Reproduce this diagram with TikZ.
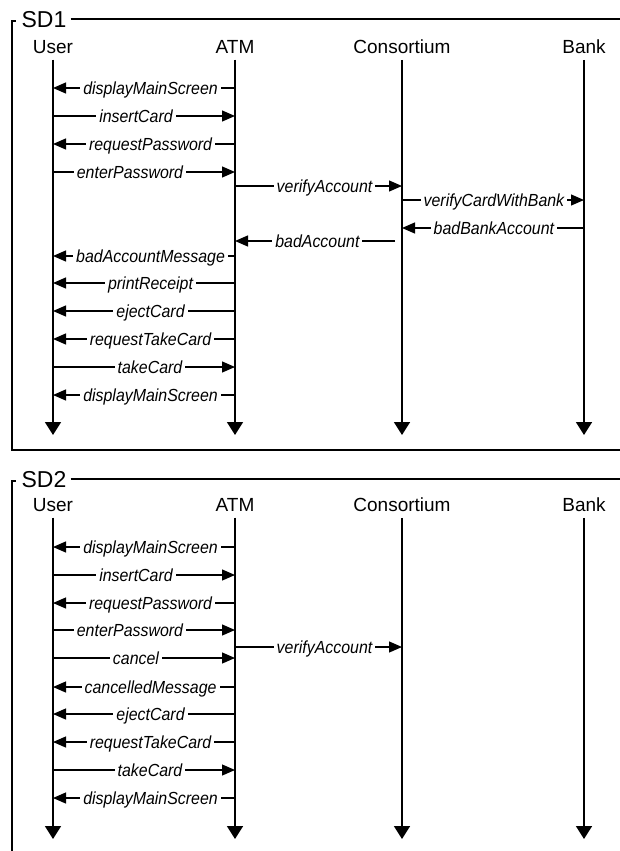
\documentclass[tikz,border=0pt]{standalone}
\usepackage{fontspec}
\setmainfont{Liberation Sans}
\newfontfamily\msgfont[FakeStretch=0.91]{Liberation Sans}
\usetikzlibrary{arrows.meta}

\begin{document}
\begin{tikzpicture}[x=1pt,y=-1pt,
  life/.style={line width=1.7pt,-{Triangle[length=13pt,width=16pt]}},
  msg/.style={line width=1.2pt,-{Triangle[length=13pt,width=11pt]}},
  lbl/.style={fill=white,inner xsep=3pt,inner ysep=2pt,text height=12.5pt,text depth=0pt,font=\msgfont\fontsize{17.5}{20}\selectfont\itshape},
  obj/.style={font=\fontsize{19}{22}\selectfont,inner sep=0pt,outer sep=6pt},
  sd/.style={font=\fontsize{23}{26}\selectfont,inner sep=0pt},
  frm/.style={line width=1.7pt}]
\useasboundingbox (0,0) rectangle (620,851);

\node[sd] (SD1) at (44,20) {SD1};
\draw[frm] (620,450) -- (12,450) -- (12,21) -- (16,21);
\draw[frm] ([xshift=4pt]SD1.east |- 0,19) -- (620,19);

\node[obj] (User1) at (53,47) {User};
\node[obj] (ATM1) at (235,47) {ATM};
\node[obj] (Cons1) at (402,47) {Consortium};
\node[obj] (Bank1) at (584,47) {Bank};
\coordinate (User1e) at (53,435);
\coordinate (ATM1e) at (235,435);
\coordinate (Cons1e) at (402,435);
\coordinate (Bank1e) at (584,435);
\draw[life] (User1) -- (User1e);
\draw[life] (ATM1) -- (ATM1e);
\draw[life] (Cons1) -- (Cons1e);
\draw[life] (Bank1) -- (Bank1e);

\draw[msg] (ATM1 |- 0,88) -- node[lbl,pos=.464]{displayMainScreen} (User1 |- 0,88);
\draw[msg] (User1 |- 0,116) -- node[lbl,pos=.456]{insertCard} (ATM1 |- 0,116);
\draw[msg] (ATM1 |- 0,144) -- node[lbl,pos=.464]{requestPassword} (User1 |- 0,144);
\draw[msg] (User1 |- 0,172) -- node[lbl,pos=.423]{enterPassword} (ATM1 |- 0,172);
\draw[msg] (ATM1 |- 0,186) -- node[lbl,pos=.536]{verifyAccount} (Cons1 |- 0,186);
\draw[msg] (Cons1 |- 0,200) -- node[lbl,pos=.505]{verifyCardWithBank} (Bank1 |- 0,200);
\draw[msg] (Bank1 |- 0,228) -- node[lbl,pos=.495]{badBankAccount} (Cons1 |- 0,228);
\draw[msg] ([xshift=-7pt]Cons1 |- 0,241) -- node[lbl,pos=.485]{badAccount} (ATM1 |- 0,241);
\draw[msg] (ATM1 |- 0,256) -- node[lbl,pos=.464]{badAccountMessage} (User1 |- 0,256);
\draw[msg] (ATM1 |- 0,283) -- node[lbl,pos=.464]{printReceipt} (User1 |- 0,283);
\draw[msg] (ATM1 |- 0,311) -- node[lbl,pos=.464]{ejectCard} (User1 |- 0,311);
\draw[msg] (ATM1 |- 0,339) -- node[lbl,pos=.464]{requestTakeCard} (User1 |- 0,339);
\draw[msg] (User1 |- 0,367) -- node[lbl,pos=.533]{takeCard} (ATM1 |- 0,367);
\draw[msg] (ATM1 |- 0,395) -- node[lbl,pos=.464]{displayMainScreen} (User1 |- 0,395);

\node[sd] (SD2) at (44,480) {SD2};
\draw[frm] (12,851) -- (12,481) -- (16,481);
\draw[frm] ([xshift=4pt]SD2.east |- 0,479) -- (620,479);

\node[obj] (User2) at (53,505) {User};
\node[obj] (ATM2) at (235,505) {ATM};
\node[obj] (Cons2) at (402,505) {Consortium};
\node[obj] (Bank2) at (584,505) {Bank};
\coordinate (User2e) at (53,839);
\coordinate (ATM2e) at (235,839);
\coordinate (Cons2e) at (402,839);
\coordinate (Bank2e) at (584,839);
\draw[life] (User2) -- (User2e);
\draw[life] (ATM2) -- (ATM2e);
\draw[life] (Cons2) -- (Cons2e);
\draw[life] (Bank2) -- (Bank2e);

\draw[msg] (ATM2 |- 0,547) -- node[lbl,pos=.464]{displayMainScreen} (User2 |- 0,547);
\draw[msg] (User2 |- 0,575) -- node[lbl,pos=.456]{insertCard} (ATM2 |- 0,575);
\draw[msg] (ATM2 |- 0,603) -- node[lbl,pos=.464]{requestPassword} (User2 |- 0,603);
\draw[msg] (User2 |- 0,630) -- node[lbl,pos=.423]{enterPassword} (ATM2 |- 0,630);
\draw[msg] (ATM2 |- 0,647) -- node[lbl,pos=.536]{verifyAccount} (Cons2 |- 0,647);
\draw[msg] (User2 |- 0,658) -- node[lbl,pos=.456]{cancel} (ATM2 |- 0,658);
\draw[msg] (ATM2 |- 0,687) -- node[lbl,pos=.464]{cancelledMessage} (User2 |- 0,687);
\draw[msg] (ATM2 |- 0,714) -- node[lbl,pos=.464]{ejectCard} (User2 |- 0,714);
\draw[msg] (ATM2 |- 0,742) -- node[lbl,pos=.464]{requestTakeCard} (User2 |- 0,742);
\draw[msg] (User2 |- 0,770) -- node[lbl,pos=.533]{takeCard} (ATM2 |- 0,770);
\draw[msg] (ATM2 |- 0,798) -- node[lbl,pos=.464]{displayMainScreen} (User2 |- 0,798);
\end{tikzpicture}
\end{document}
